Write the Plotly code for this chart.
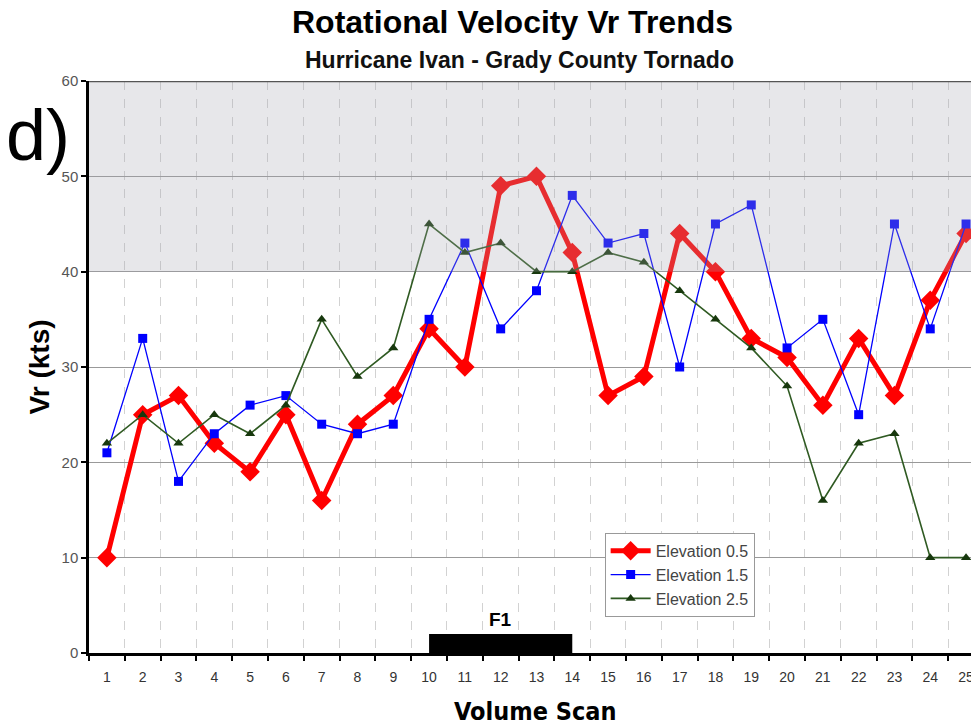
import plotly.graph_objects as go

# ── Data ───────────────────────────────────────────────────────
scans = [str(i) for i in range(1, 26)]
elev_05 = [10, 25, 27, 22, 19, 25, 16, 24, 27, 34, 30, 49, 50, 42, 27, 29, 44, 40, 33, 31, 26, 33, 27, 37, 44]
elev_15 = [21, 33, 18, 23, 26, 27, 24, 23, 24, 35, 43, 34, 38, 48, 43, 44, 30, 45, 47, 32, 35, 25, 45, 34, 45]
elev_25 = [22, 25, 22, 25, 23, 26, 35, 29, 32, 45, 42, 43, 40, 40, 42, 41, 38, 35, 32, 28, 16, 22, 23, 10, 10]
y_ticks = [0, 10, 20, 30, 40, 50, 60]

# F1 period (scan range) and shaded high-Vr band
f1_start, f1_end = "10", "14"
band_low, band_high = 40, 60

FONT = "Arial, Liberation Sans, sans-serif"
NARROW = "Liberation Sans Narrow, DejaVu Sans Condensed, Arial, sans-serif"

fig = go.Figure()

fig.add_trace(go.Scatter(
    x=scans, y=elev_05, name="Elevation 0.5",
    mode="lines+markers",
    line=dict(color="#ff0000", width=5),
    marker=dict(symbol="diamond", size=15, color="#ff0000"),
))
fig.add_trace(go.Scatter(
    x=scans, y=elev_15, name="Elevation 1.5",
    mode="lines+markers",
    line=dict(color="#0000ff", width=1.3),
    marker=dict(symbol="square", size=9, color="#0000ff"),
))
fig.add_trace(go.Scatter(
    x=scans, y=elev_25, name="Elevation 2.5",
    mode="lines+markers",
    line=dict(color="#2f5a22", width=1.6),
    marker=dict(symbol="triangle-up", size=9, color="#17380d"),
))

idx = {s: i for i, s in enumerate(scans)}

# shaded band drawn over the data (lines look faded inside it)
fig.add_shape(type="rect", xref="paper", yref="y",
              x0=0, x1=1, y0=band_low, y1=band_high,
              fillcolor="#a6a6b0", opacity=0.27, line_width=0, layer="above")

# top border at 60
fig.add_shape(type="line", xref="paper", yref="y",
              x0=0, x1=1, y0=band_high, y1=band_high,
              line=dict(color="#555555", width=2.5))

# F1 bar
fig.add_shape(type="rect", xref="x", yref="y",
              x0=idx[f1_start], x1=idx[f1_end], y0=0, y1=2,
              fillcolor="black", line_width=0, layer="above")
fig.add_annotation(x=idx["12"], y=3.5, xref="x", yref="y", text="<b>F1</b>",
                   showarrow=False, xanchor="center", yanchor="middle",
                   font=dict(size=19, color="black", family=FONT))

# titles / labels (anchored at their centres)
labels = [
    dict(x=0.478, y=1.103, text="<b>Rotational Velocity Vr Trends</b>", size=32, color="black", angle=0, family=FONT),
    dict(x=0.486, y=1.037, text="<b>Hurricane Ivan - Grady County Tornado</b>", size=23, color="#111111", angle=0, family=FONT),
    dict(x=-0.057, y=0.906, text="d)", size=72, color="black", angle=0, family=FONT),
    dict(x=-0.056, y=0.5, text="<b>Vr (kts)</b>", size=28, color="black", angle=-90, family=FONT),
    dict(x=0.503, y=-0.103, text="<b>Volume Scan</b>", size=25, color="black", angle=0, family=NARROW),
]
for lab in labels:
    fig.add_annotation(x=lab["x"], y=lab["y"], xref="paper", yref="paper",
                       text=lab["text"], showarrow=False, textangle=lab["angle"],
                       xanchor="center", yanchor="middle",
                       font=dict(size=lab["size"], color=lab["color"], family=lab["family"]))

# page body has an 8px margin, so the figure is a bit smaller than the window
fig.update_layout(
    width=967, height=718,
    margin=dict(l=81, r=0, t=73, b=73, autoexpand=False),
    plot_bgcolor="white", paper_bgcolor="white",
    font=dict(family=FONT, color="#333333"),
    showlegend=True,
    legend=dict(
        x=0.582, y=0.21, xanchor="left", yanchor="top",
        bgcolor="white", bordercolor="#999999", borderwidth=1,
        font=dict(size=16, color="#444444", family=FONT),
        itemwidth=40, tracegroupgap=0,
    ),
    xaxis=dict(
        type="category",
        range=[-0.5, 24.25],
        tickson="boundaries",
        ticks="outside", ticklen=5, tickwidth=2, tickcolor="black",
        showline=True, linecolor="black", linewidth=3,
        showgrid=True, gridcolor="#d2d2d2", griddash="dash", gridwidth=1,
        tickfont=dict(size=14, color="#333333", family=FONT),
        ticklabelstandoff=9,
        ticklabeloverflow="allow",
        zeroline=False,
    ),
    yaxis=dict(
        range=[0, 60],
        tickvals=y_ticks,
        ticks="outside", ticklen=5, tickwidth=2, tickcolor="black",
        showline=True, linecolor="black", linewidth=2.5,
        showgrid=True, gridcolor="#999999", gridwidth=1,
        tickfont=dict(size=15, color="#555555", family=FONT),
        zeroline=False,
    ),
)

fig.write_html("out.html")
